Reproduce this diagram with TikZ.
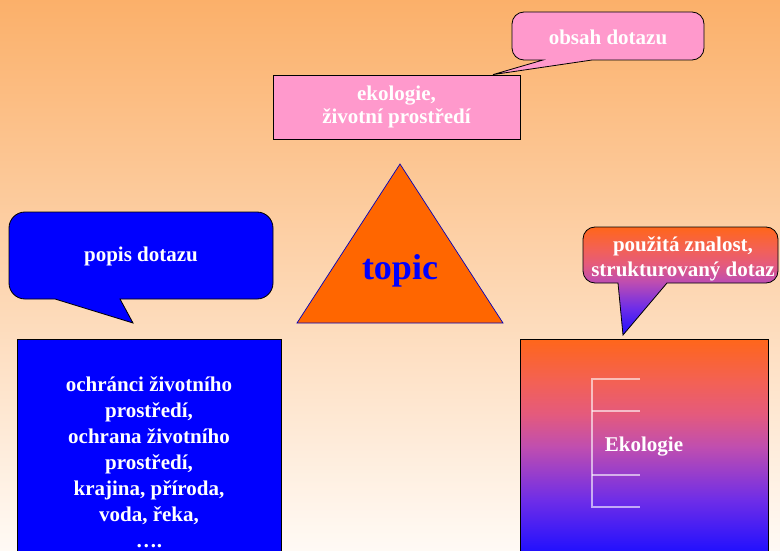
\documentclass[tikz,border=0pt]{standalone}
\usepackage{fontspec}
\setmainfont{Liberation Serif}
\definecolor{bgtop}{RGB}{251,176,106}
\definecolor{bgbot}{RGB}{255,250,245}
\definecolor{pinkbox}{RGB}{255,153,204}
\definecolor{tri}{RGB}{255,102,0}
\definecolor{gA}{RGB}{30,15,255}
\definecolor{gB}{RGB}{110,45,232}
\definecolor{gC}{RGB}{192,78,175}
\definecolor{gD}{RGB}{228,90,125}
\definecolor{gE}{RGB}{243,97,85}
\definecolor{gF}{RGB}{255,102,26}
\pgfdeclareverticalshading{orangeblue}{100bp}{color(0bp)=(gA); color(25bp)=(gA); color(37.5bp)=(gB); color(50bp)=(gC); color(57.5bp)=(gD); color(65bp)=(gE); color(75bp)=(gF); color(100bp)=(gF)}
\begin{document}
\begin{tikzpicture}[x=1pt,y=-1pt,
  lbl/.style={text=white, font=\bfseries\fontsize{21}{25.5}\selectfont, align=center, inner sep=0pt},
  boxline/.style={draw=black, line width=0.8pt},
  bracket/.style={draw=white, draw opacity=0.6, line width=1.3pt}]
\useasboundingbox (0,0) rectangle (780,551);
\clip (0,0) rectangle (780,551);
% background
\shade[top color=bgtop, bottom color=bgbot] (0,0) rectangle (780,551);

% pink box
\node[boxline, fill=pinkbox, minimum width=247pt, minimum height=64pt, lbl,
      font=\bfseries\fontsize{21}{23}\selectfont] (eko) at (396.5,107) {ekologie,\\životní prostředí};

% callout obsah dotazu
\path[boxline, fill=pinkbox] (524,12) -- (692,12) arc[start angle=-90,end angle=0,radius=12]
  -- (704,48) arc[start angle=0,end angle=90,radius=12]
  -- (592,60) -- (eko.north -| 493,0) -- (543,60)
  -- (524,60) arc[start angle=90,end angle=180,radius=12]
  -- (512,24) arc[start angle=180,end angle=270,radius=12] -- cycle;
\node[lbl] (obsah) at (608,37) {obsah dotazu};

% blue callout popis dotazu
\path[boxline, fill=blue] (25,212) -- (257,212) arc[start angle=-90,end angle=0,radius=16]
  -- (273,283) arc[start angle=0,end angle=90,radius=16]
  -- (120,299) -- (133,323) -- (55,299)
  -- (25,299) arc[start angle=90,end angle=180,radius=16]
  -- (9,228) arc[start angle=180,end angle=270,radius=16] -- cycle;
\node[lbl] (popis) at (141,256) {popis dotazu};

% triangle
\path[fill=tri, draw=blue!75!black, line width=0.7pt] (400,164) -- (503,323) -- (297,323) -- cycle;
\node[text=blue, font=\bfseries\fontsize{36}{40}\selectfont, inner sep=0pt] (topic) at (400,271) {topic};

% right callout
\shadedraw[shading=orangeblue, line width=0.8pt]
  (595,227) -- (766,227) arc[start angle=-90,end angle=0,radius=12]
  -- (778,271) arc[start angle=0,end angle=90,radius=12]
  -- (667,283) -- (623,335) -- (618,283)
  -- (595,283) arc[start angle=90,end angle=180,radius=12]
  -- (583,239) arc[start angle=180,end angle=270,radius=12] -- cycle;
\node[lbl, font=\bfseries\fontsize{21}{25}\selectfont] (pouz) at (683,259) {použitá znalost,\\strukturovaný dotaz};

% blue box
\path[boxline, fill=blue] (17,339) rectangle (281,554);
\node[lbl, font=\bfseries\fontsize{21}{26}\selectfont] (list) at (149,462)
  {ochránci životního\\prostředí,\\ochrana životního\\prostředí,\\krajina, příroda,\\voda, řeka,\\….};

% right gradient box
\shadedraw[shading=orangeblue, line width=0.8pt] (520,339) rectangle (768,554);
\draw[bracket] (640,379) -- (592,379) -- (592,507) -- (640,507);
\draw[bracket] (592,411) -- (640,411);
\draw[bracket] (592,475) -- (640,475);
\node[lbl] (ekol) at (644,447) {Ekologie};
\end{tikzpicture}
\end{document}
